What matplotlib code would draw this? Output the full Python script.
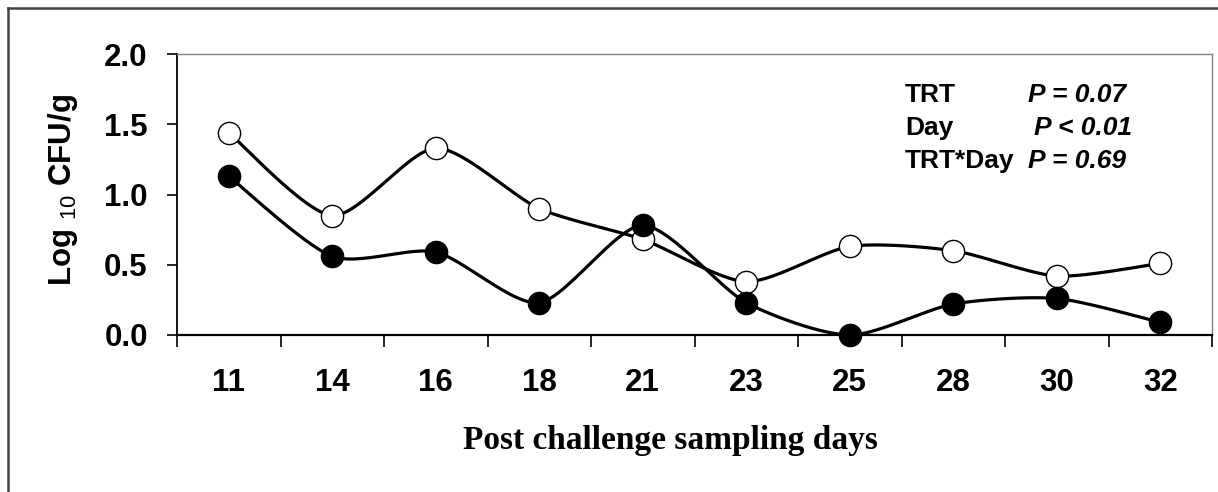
import numpy as np
import matplotlib
matplotlib.use("Agg")
import matplotlib.pyplot as plt
from matplotlib import font_manager
from matplotlib.lines import Line2D

# ---- data ----
days = ["11", "14", "16", "18", "21", "23", "25", "28", "30", "32"]
open_series = [1.44, 0.85, 1.33, 0.90, 0.68, 0.38, 0.63, 0.60, 0.42, 0.51]
filled_series = [1.13, 0.56, 0.59, 0.23, 0.78, 0.23, 0.00, 0.22, 0.26, 0.09]
y_ticks = [0.0, 0.5, 1.0, 1.5, 2.0]
stats_names = ["TRT", "Day", "TRT*Day"]
stats_values = ["P = 0.07", "P < 0.01", "P = 0.69"]

names = {f.name for f in font_manager.fontManager.ttflist}
SANS = "Liberation Sans" if "Liberation Sans" in names else "DejaVu Sans"
NARROW = "Liberation Sans Narrow" if "Liberation Sans Narrow" in names else SANS
SERIF = "Liberation Serif" if "Liberation Serif" in names else "DejaVu Serif"

plt.rcParams["mathtext.fontset"] = "custom"
plt.rcParams["mathtext.rm"] = SANS
plt.rcParams["mathtext.it"] = SANS + ":italic"
plt.rcParams["mathtext.bf"] = SANS + ":bold"


def smooth(yvals, s=0.38, n=30):
    """Cardinal-spline curve through the points (Excel-like smoothing)."""
    x = np.arange(len(yvals), dtype=float)
    y = np.asarray(yvals, dtype=float)
    P = np.column_stack([x, y])
    P = np.vstack([P[0], P, P[-1]])
    out = []
    for i in range(1, len(P) - 2):
        p0, p1, p2, p3 = P[i - 1], P[i], P[i + 1], P[i + 2]
        m1 = s * (p2 - p0)
        m2 = s * (p3 - p1)
        t = np.linspace(0, 1, n)[:, None]
        h00 = 2 * t ** 3 - 3 * t ** 2 + 1
        h10 = t ** 3 - 2 * t ** 2 + t
        h01 = -2 * t ** 3 + 3 * t ** 2
        h11 = t ** 3 - t ** 2
        c = h00 * p1 + h10 * m1 + h01 * p2 + h11 * m2
        out.append(c if i == 1 else c[1:])
    c = np.vstack(out)
    return c[:, 0], c[:, 1]


fig = plt.figure(figsize=(12.18, 4.92), dpi=100)
fig.patch.set_facecolor("white")

# outer frame (left and top only, image is cropped)
fig.add_artist(Line2D([8 / 1218, 8 / 1218], [0, 1 - 8 / 492], transform=fig.transFigure,
                      color="#444444", lw=1.8))
fig.add_artist(Line2D([8 / 1218, 1], [1 - 8 / 492, 1 - 8 / 492], transform=fig.transFigure,
                      color="#444444", lw=1.8))

ax = fig.add_axes([177 / 1218, 1 - 335 / 492, (1212 - 177) / 1218, (335 - 54) / 492])
n = len(days)
ax.set_xlim(-0.5, n - 0.5)
ax.set_ylim(0, 2.0)

xs = np.arange(n)
ox, oy = smooth(open_series)
fx, fy = smooth(filled_series)
ax.plot(ox, oy, color="black", lw=2.3, zorder=3, clip_on=False, solid_capstyle="round")
ax.plot(fx, fy, color="black", lw=2.3, zorder=3, clip_on=False, solid_capstyle="round")
ax.plot(xs, open_series, linestyle="none", marker="o", ms=16, mfc="white", mec="black",
        mew=1.0, zorder=4, clip_on=False)
ax.plot(xs, filled_series, linestyle="none", marker="o", ms=16, mfc="black", mec="black",
        mew=1.0, zorder=5, clip_on=False)

# spines
ax.spines["left"].set_color("black")
ax.spines["left"].set_linewidth(1.3)
ax.spines["bottom"].set_color("black")
ax.spines["bottom"].set_linewidth(1.6)
ax.spines["top"].set_color("#808080")
ax.spines["top"].set_linewidth(1.0)
ax.spines["right"].set_color("#808080")
ax.spines["right"].set_linewidth(1.0)

# y ticks
ax.set_yticks(y_ticks)
ax.set_yticklabels([f"{v:.1f}" for v in y_ticks], fontfamily=SANS, fontweight="bold",
                   fontsize=22.5)
ax.tick_params(axis="y", direction="out", length=7, width=1.2, pad=14)

# x ticks: boundaries as tick marks, labels centered
ax.set_xticks(np.arange(-0.5, n, 1.0), minor=True)
ax.set_xticks(xs)
ax.set_xticklabels(days, fontfamily=SANS, fontweight="bold", fontsize=22.5)
ax.tick_params(axis="x", which="major", length=0, pad=24)
ax.tick_params(axis="x", which="minor", direction="out", length=8.5, width=1.2)

# y label
fig.text(63 / 1218, 1 - 190 / 492, r"Log $_{10}$ CFU/g", rotation=90, ha="center",
         va="center", fontfamily=SANS, fontweight="bold", fontsize=22.5)

# x label
fig.text(670 / 1218, 1 - 440 / 492, "Post challenge sampling days", ha="center",
         va="center", fontfamily=SERIF, fontweight="bold", fontsize=24)

# stats annotation
for i, (nm, val) in enumerate(zip(stats_names, stats_values)):
    yb = 1 - (102 + 33 * i) / 492
    fig.text(905 / 1218, yb, nm, ha="left", va="baseline", fontfamily=NARROW,
             fontweight="bold", fontsize=19)
    fig.text((1028 + (6 if i == 1 else 0)) / 1218, yb, val, ha="left", va="baseline",
             fontfamily=NARROW, fontweight="bold", fontstyle="italic", fontsize=19)

fig.savefig("out.png", dpi=100, facecolor="white")
